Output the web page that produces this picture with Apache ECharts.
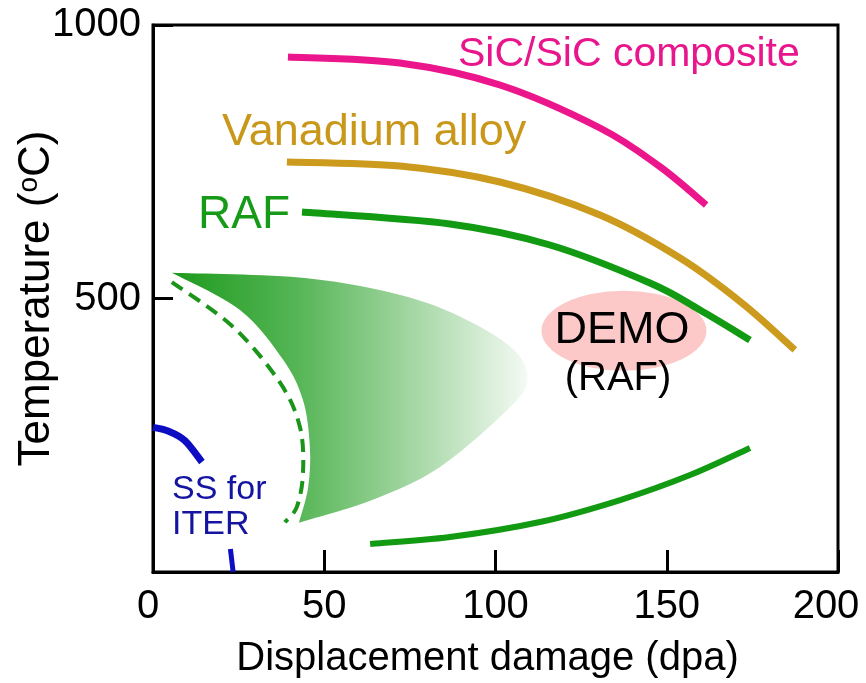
<!DOCTYPE html>
<html><head><meta charset="utf-8">
<script src="https://cdn.jsdelivr.net/npm/echarts@6/dist/echarts.min.js"></script>
<style>html,body{margin:0;padding:0;background:#fff}#c{width:866px;height:683px}</style>
</head><body><div id="c"></div>
<script>
// ---- data (x: displacement damage in dpa, y: temperature in °C) ----
const xTicks = [0, 50, 100, 150, 200];
const yTicks = [0, 500, 1000];
const sicComposite = [[39.4,941.5],[72.1,930.5],[101.3,890.3],[130.5,811.7],[148.0,741],[161.5,670.9]];
const vanadiumAlloy = [[39.1,749.5],[72.1,742.2],[101.3,713.0],[130.5,652.7],[153.9,574.0],[172.3,490.0],[187.4,405.9]];
const rafUpper = [[43.5,658.1],[86.7,636.2],[115.9,597.8],[145.1,528.3],[159.7,479.0],[174.3,424.1]];
const rafLower = [[63.4,51.2],[86.7,64.0],[113.0,91.4],[136.4,131.6],[156.8,177.3],[174.3,226.7]];
const regionOuter = [[5.5,547],[45,537],[74.2,503],[93.4,455],[106.3,400],[109.2,347],[103.4,296],[83.8,192],[64.2,132],[42.6,90]];
const regionInner = [[42.6,90],[45.3,155],[45.8,229],[43.8,314],[38,388],[25.4,479],[5.5,547]];
const rafDashed = [[5.5,530],[23.4,448],[37.1,346],[42.9,265],[43.8,181],[42,119],[38.5,91]];
const ssArc = [[0,264.5],[4.4,257.8],[9.3,240.3],[14.3,201.1]];
const ssLow = [[22.6,42],[23.4,0]];
const demoCenter = [[137.5,441]];

const FONT = '"Liberation Sans", Arial, Helvetica, sans-serif';
const chart = echarts.init(document.getElementById('c'));

// Catmull-Rom -> cubic bezier segments through pixel points
function curve(pts) {
  let d = '';
  for (let i = 0; i < pts.length - 1; i++) {
    const p0 = pts[i-1] || pts[i], p1 = pts[i], p2 = pts[i+1], p3 = pts[i+2] || pts[i+1];
    const c1 = [p1[0] + (p2[0]-p0[0])/6, p1[1] + (p2[1]-p0[1])/6];
    const c2 = [p2[0] - (p3[0]-p1[0])/6, p2[1] - (p3[1]-p1[1])/6];
    d += ' C ' + c1[0] + ' ' + c1[1] + ' ' + c2[0] + ' ' + c2[1] + ' ' + p2[0] + ' ' + p2[1];
  }
  return d;
}

function curveSeries(data, color, width, dash, z) {
  return {
    type: 'custom', data: [0], z: z || 5, silent: true,
    renderItem: function (params, api) {
      const px = data.map(p => api.coord(p));
      const d = 'M ' + px[0][0] + ' ' + px[0][1] + curve(px);
      return {
        type: 'path', shape: { pathData: d },
        style: { fill: null, stroke: color, lineWidth: width, lineDash: dash || null, lineCap: 'butt' }
      };
    }
  };
}

const option = {
  animation: false,
  grid: { left: 153, right: 28, top: 25, bottom: 111, show: true, borderColor: '#000', borderWidth: 3,
          containLabel: false, outerBoundsMode: 'none' },
  xAxis: {
    type: 'value', min: xTicks[0], max: xTicks[xTicks.length-1], interval: 50,
    axisLine: { show: true, lineStyle: { color: '#000', width: 3 } },
    axisTick: { show: true, inside: true, length: 22, lineStyle: { color: '#000', width: 3 } },
    axisLabel: { color: '#000', fontSize: 40, fontFamily: FONT, margin: 15,
      formatter: v => (v === 200 ? '{r|200}' : v === 0 ? '{z|0}' : String(v)),
      rich: {
        r: { color: '#000', fontSize: 40, fontFamily: FONT, padding: [0, 24, 0, 0] },
        z: { color: '#000', fontSize: 40, fontFamily: FONT, padding: [0, 10, 0, 0] }
      } },
    splitLine: { show: false },
    name: 'Displacement damage (dpa)', nameLocation: 'middle', nameGap: 67, nameMoveOverlap: false,
    nameTextStyle: { color: '#000', fontSize: 40, fontFamily: FONT, padding: [0, 16, 0, 0] }
  },
  yAxis: {
    type: 'value', min: yTicks[0], max: yTicks[yTicks.length-1], interval: 500,
    axisLine: { show: true, lineStyle: { color: '#000', width: 3 } },
    axisTick: { show: true, inside: true, length: 20, lineStyle: { color: '#000', width: 3 } },
    axisLabel: { color: '#000', fontSize: 40, fontFamily: FONT, margin: 12,
      formatter: v => (v === 0 ? '' : String(v)) },
    splitLine: { show: false },
    name: '{a|Temperature (}{s|o}{a|C)}', nameLocation: 'middle', nameGap: 94, nameRotate: 90,
    nameMoveOverlap: false,
    nameTextStyle: { rich: {
      a: { color: '#000', fontSize: 44, fontFamily: FONT },
      s: { color: '#000', fontSize: 28, fontFamily: FONT, verticalAlign: 'top', padding: [0,0,16,0] }
    } }
  },
  series: [
    { type: 'scatter', data: demoCenter, symbol: 'circle', symbolSize: [165, 80],
      itemStyle: { color: '#fbbaba' }, z: 1, silent: true },
    { type: 'custom', data: [0], z: 2, silent: true,
      renderItem: function (params, api) {
        const outer = regionOuter.map(p => api.coord(p));
        const inner = regionInner.map(p => api.coord(p));
        const d = 'M ' + outer[0][0] + ' ' + outer[0][1] + curve(outer) + curve(inner) + ' Z';
        let minX = Infinity, maxX = -Infinity;
        outer.forEach(p => { minX = Math.min(minX, p[0]); maxX = Math.max(maxX, p[0]); });
        return {
          type: 'path', shape: { pathData: d },
          style: { fill: new echarts.graphic.LinearGradient(minX, 0, maxX, 0, [
            { offset: 0, color: '#1d9a1d' }, { offset: 0.35, color: '#55b555' },
            { offset: 0.7, color: '#a9d9a9' }, { offset: 1, color: '#f4faf4' }], true), stroke: null }
        };
      }
    },
    curveSeries(rafDashed, '#1a951a', 4, [13, 8], 3),
    curveSeries(ssArc, '#0d0dc4', 7),
    curveSeries(ssLow, '#0d0dc4', 5),
    curveSeries(sicComposite, '#ec168c', 7),
    curveSeries(vanadiumAlloy, '#cc9a1c', 7),
    curveSeries(rafUpper, '#139a13', 7),
    curveSeries(rafLower, '#139a13', 6)
  ],
  graphic: [
    { type: 'text', x: 458, y: 55, z: 10, style: { text: 'SiC/SiC composite', font: '41px ' + FONT, fill: '#e8158c', textVerticalAlign: 'middle' } },
    { type: 'text', x: 222, y: 133, z: 10, style: { text: 'Vanadium alloy', font: '45px ' + FONT, fill: '#c9971a', textVerticalAlign: 'middle' } },
    { type: 'text', x: 198, y: 215, z: 10, style: { text: 'RAF', font: '46px ' + FONT, fill: '#179a17', textVerticalAlign: 'middle' } },
    { type: 'text', x: 622, y: 331, z: 10, style: { text: 'DEMO', font: '45px ' + FONT, fill: '#000', textAlign: 'center', textVerticalAlign: 'middle' } },
    { type: 'text', x: 618, y: 379, z: 10, style: { text: '(RAF)', font: '40px ' + FONT, fill: '#000', textAlign: 'center', textVerticalAlign: 'middle' } },
    { type: 'text', x: 172, y: 490, z: 10, style: { text: 'SS for', font: '34px ' + FONT, fill: '#1414a0', textVerticalAlign: 'middle' } },
    { type: 'text', x: 172, y: 525, z: 10, style: { text: 'ITER', font: '34px ' + FONT, fill: '#1414a0', textVerticalAlign: 'middle' } }
  ]
};
chart.setOption(option);
</script>
</body></html>
